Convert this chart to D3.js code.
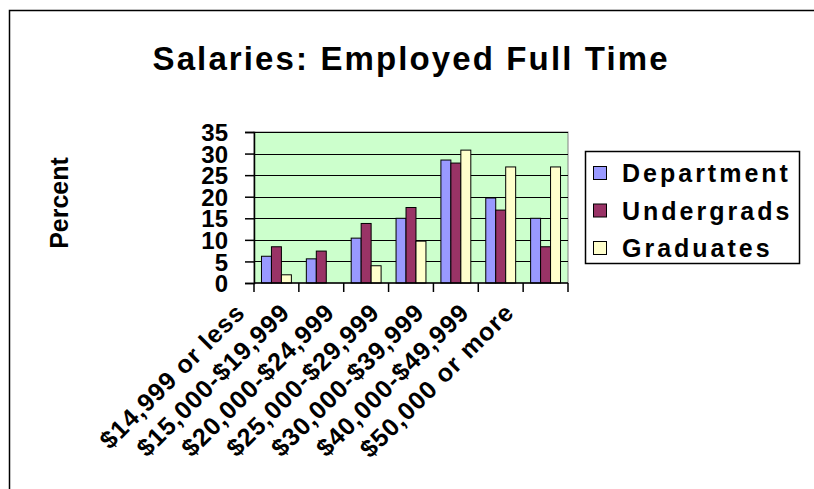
<!DOCTYPE html>
<html>
<head>
<meta charset="utf-8">
<script src="https://cdn.jsdelivr.net/npm/d3@7"></script>
<style>
  body { margin: 0; background: #fff; }
  text { font-family: "Liberation Sans", Arial, sans-serif; font-weight: bold; }
</style>
</head>
<body>
<div id="chart"></div>
<script>
const width = 814;
const height = 489;

// chart values
const categories = ['$14,999 or less', '$15,000-$19,999', '$20,000-$24,999', '$25,000-$29,999',
  '$30,000-$39,999', '$40,000-$49,999', '$50,000 or more'];
const seriesNames = ['Department', 'Undergrads', 'Graduates'];
const department = [6.2, 5.6, 10.4, 15.0, 28.5, 19.7, 15.0];
const undergrads = [8.4, 7.4, 13.8, 17.5, 27.8, 16.9, 8.4];
const graduates = [1.9, 0, 4.0, 9.7, 30.8, 26.9, 26.9];
const yTicks = [0, 5, 10, 15, 20, 25, 30, 35];
const colors = ['#9999ff', '#993366', '#ffffcc'];

const seriesValues = [department, undergrads, graduates];

const plot = { left: 254, right: 568, top: 132, bottom: 283 };

const svg = d3.select('#chart')
  .append('svg')
  .attr('width', width)
  .attr('height', height);

// outer chart border (cropped at right and bottom)
svg.append('path')
  .attr('d', 'M9.5,489 L9.5,10.5 L814,10.5')
  .attr('fill', 'none')
  .attr('stroke', '#000')
  .attr('stroke-width', 1.5);

const x = d3.scaleBand()
  .domain(categories)
  .range([plot.left, plot.right])
  .paddingInner(0)
  .paddingOuter(0);

// 3 bars per category with 150% gap width
const xInner = d3.scaleBand()
  .domain(seriesNames)
  .range([0, x.bandwidth()])
  .paddingOuter(0.75)
  .paddingInner(0);

const y = d3.scaleLinear()
  .domain([0, 35])
  .range([plot.bottom, plot.top]);

// plot background
svg.append('rect')
  .attr('x', plot.left)
  .attr('y', plot.top)
  .attr('width', plot.right - plot.left)
  .attr('height', plot.bottom - plot.top)
  .attr('fill', '#ccffcc')
  .attr('stroke', '#808080')
  .attr('stroke-width', 1);

// gridlines
svg.selectAll('.grid')
  .data(yTicks.filter(d => d > 0))
  .enter()
  .append('line')
  .attr('class', 'grid')
  .attr('x1', plot.left)
  .attr('x2', plot.right)
  .attr('y1', d => Math.round(y(d)) + 0.5)
  .attr('y2', d => Math.round(y(d)) + 0.5)
  .attr('stroke', '#000')
  .attr('stroke-width', 1);

// bars
const groups = svg.selectAll('.group')
  .data(categories)
  .enter()
  .append('g')
  .attr('class', 'group')
  .attr('transform', d => `translate(${x(d)},0)`);

groups.selectAll('rect')
  .data((d, i) => seriesNames.map((s, j) => ({ series: s, j: j, value: seriesValues[j][i] })))
  .enter()
  .filter(d => d.value > 0)
  .append('rect')
  .attr('x', d => xInner(d.series))
  .attr('y', d => y(d.value))
  .attr('width', xInner.bandwidth())
  .attr('height', d => y(0) - y(d.value))
  .attr('fill', d => colors[d.j])
  .attr('stroke', '#000')
  .attr('stroke-width', 1);

// y axis
const yAxis = d3.axisLeft(y)
  .tickValues(yTicks)
  .tickSize(9)
  .tickPadding(17)
  .tickFormat(d3.format('d'));

const yG = svg.append('g')
  .attr('transform', `translate(${plot.left},0)`)
  .call(yAxis);
yG.select('.domain').attr('stroke', '#000').attr('stroke-width', 1.5);
yG.selectAll('.tick line').attr('stroke', '#000').attr('stroke-width', 1.5);
yG.selectAll('.tick text')
  .attr('font-size', 24)
  .attr('dy', '0.36em')
  .attr('font-family', '"Liberation Sans", Arial, sans-serif')
  .attr('font-weight', 'bold')
  .attr('fill', '#000');

// x axis: ticks at category boundaries
const boundaries = categories.map(c => x(c)).concat([plot.right]);
svg.append('line')
  .attr('x1', plot.left)
  .attr('x2', plot.right)
  .attr('y1', plot.bottom)
  .attr('y2', plot.bottom)
  .attr('stroke', '#000')
  .attr('stroke-width', 1.5);
svg.selectAll('.xtick')
  .data(boundaries)
  .enter()
  .append('line')
  .attr('class', 'xtick')
  .attr('x1', d => d)
  .attr('x2', d => d)
  .attr('y1', plot.bottom)
  .attr('y2', plot.bottom + 9)
  .attr('stroke', '#000')
  .attr('stroke-width', 1.5);

svg.selectAll('.xlabel')
  .data(categories)
  .enter()
  .append('text')
  .attr('class', 'xlabel')
  .attr('text-anchor', 'end')
  .attr('font-size', 25)
  .attr('letter-spacing', 1)
  .attr('transform', d => `translate(${x(d) + x.bandwidth() / 2 - 30},${plot.bottom + 31}) rotate(-45)`)
  .text(d => d);

// title
svg.append('text')
  .attr('x', 410)
  .attr('y', 70)
  .attr('text-anchor', 'middle')
  .attr('font-size', 33)
  .attr('textLength', 515)
  .attr('lengthAdjust', 'spacing')
  .text('Salaries: Employed Full Time');

// y axis title
svg.append('text')
  .attr('transform', 'translate(68,203) rotate(-90)')
  .attr('text-anchor', 'middle')
  .attr('font-size', 25)
  .text('Percent');

// legend
const legend = svg.append('g');
legend.append('rect')
  .attr('x', 585.5)
  .attr('y', 151.5)
  .attr('width', 214)
  .attr('height', 112)
  .attr('fill', '#fff')
  .attr('stroke', '#000')
  .attr('stroke-width', 1.5);

const items = legend.selectAll('.item')
  .data(seriesNames)
  .enter()
  .append('g')
  .attr('class', 'item')
  .attr('transform', (d, i) => `translate(593,${173 + i * 37.5})`);

items.append('rect')
  .attr('x', 0.5)
  .attr('y', -6.5)
  .attr('width', 13)
  .attr('height', 13)
  .attr('fill', (d, i) => colors[i])
  .attr('stroke', '#000')
  .attr('stroke-width', 1);

items.append('text')
  .attr('x', 29)
  .attr('y', 9)
  .attr('font-size', 25)
  .attr('letter-spacing', 3)
  .text(d => d);
</script>
</body>
</html>
